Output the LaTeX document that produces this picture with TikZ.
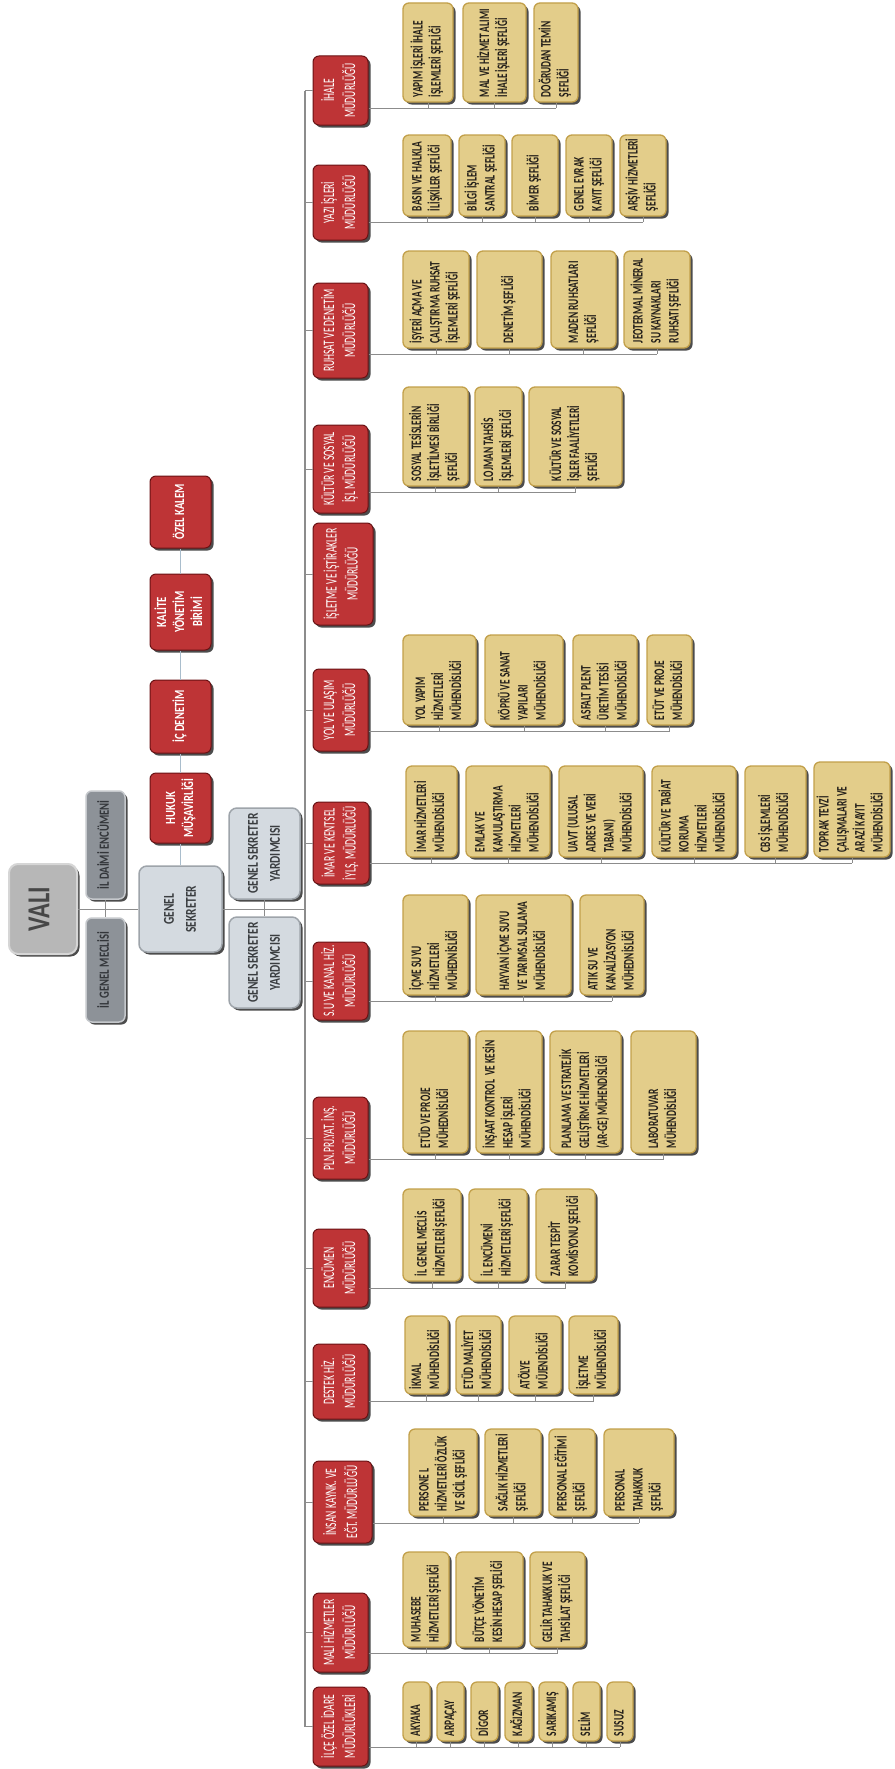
\documentclass[tikz,border=0pt]{standalone}
\usepackage{fontspec}
\usepackage{graphicx}
\setmainfont{Carlito}
\newfontfamily\yfont[FakeStretch=0.65]{Carlito}
\newfontfamily\rfont[FakeStretch=0.6]{Carlito}
\newfontfamily\gfont[FakeStretch=0.76]{Carlito}
\usetikzlibrary{shadows}
\definecolor{yfill}{HTML}{E3CD8A}
\definecolor{ybord}{HTML}{C2A04A}
\definecolor{ytxt}{HTML}{231F1A}
\definecolor{rfill}{HTML}{BE3436}
\definecolor{rbord}{HTML}{6A1214}
\definecolor{vfill}{HTML}{B7B7B7}
\definecolor{vbord}{HTML}{D6D6D6}
\definecolor{vtxt}{HTML}{474747}
\definecolor{dfill}{HTML}{8D9298}
\definecolor{dbord}{HTML}{C5C8CC}
\definecolor{dtxt}{HTML}{33363A}
\definecolor{sfill}{HTML}{D4DAE0}
\definecolor{sbord}{HTML}{9EA4AA}
\definecolor{stxt}{HTML}{3A3D40}
\definecolor{lgray}{HTML}{8C8C8C}
\definecolor{lblue}{HTML}{A9BDCC}

\newcommand\yt[2]{\rotatebox{90}{\makebox[#1][l]{\begin{tabular}{@{}l@{}}#2\end{tabular}}}}
\newcommand\ct[1]{\rotatebox{90}{\begin{tabular}{@{}c@{}}#1\end{tabular}}}
\newcommand\BX[7]{%
 \pgfmathsetmacro\bxcx{(#3+#5)/2}%
 \pgfmathsetmacro\bxcy{(#4+#6)/2}%
 \pgfmathsetmacro\bxw{#5-#3}%
 \pgfmathsetmacro\bxh{#6-#4}%
 \node[#1, minimum width=\bxw pt, minimum height=\bxh pt] (#2) at (\bxcx,\bxcy) {#7};}
\newcommand\YB[6]{%
 \pgfmathsetmacro\bxt{#5-#3-10}%
 \BX{ybox}{#1}{#2}{#3}{#4}{#5}{\yt{\bxt pt}{#6}}}
\newcommand\KIDS[4]{% red, line y, last child, children
 \coordinate (ly#1) at (0,#2);
 \draw[gline] (#1.east |- ly#1) -- (#3.south |- ly#1);
 \foreach \k in {#4} {\draw[gline] (\k.south) -- (\k.south |- ly#1);}}

\tikzset{
 shd/.style={drop shadow={shadow xshift=2.5pt,shadow yshift=-2.5pt,opacity=0.7,fill=black}},
 ybox/.style={shd, rounded corners=6pt, inner sep=0pt, fill=yfill, draw=ybord, line width=1.3pt, text=ytxt, font=\yfont\bfseries\fontsize{14.5}{18}\selectfont},
 rbox/.style={shd, rounded corners=6pt, inner sep=0pt, fill=rfill, draw=rbord, line width=1pt, text=white, font=\rfont\fontsize{16}{21}\selectfont},
 tbox/.style={rbox, font=\gfont\bfseries\fontsize{14}{18}\selectfont},
 vbox/.style={shd, rounded corners=9pt, inner sep=0pt, fill=vfill, draw=vbord, line width=2pt, text=vtxt, font=\gfont\bfseries\fontsize{32}{32}\selectfont},
 dbox/.style={shd, rounded corners=6pt, inner sep=0pt, fill=dfill, draw=dbord, line width=1.5pt, text=dtxt, font=\gfont\bfseries\fontsize{14}{17}\selectfont},
 sbox/.style={shd, rounded corners=8pt, inner sep=0pt, fill=sfill, draw=sbord, line width=1.5pt, text=stxt, font=\gfont\bfseries\fontsize{15}{22}\selectfont},
 gline/.style={draw=lgray, line width=1pt},
 bline/.style={draw=lgray, line width=1.6pt},
 lline/.style={draw=lblue, line width=1pt},
}

\begin{document}
\begin{tikzpicture}[x=1pt,y=-1pt]
\path[fill=white, use as bounding box] (0,0) rectangle (894,1769);

% ---- left part
\BX{vbox}{vali}{9}{864}{77}{954}{\ct{VALI}}
\BX{dbox}{ilde}{86}{791}{125}{899}{\ct{İL DAİMİ ENCÜMENİ}}
\BX{dbox}{ilgm}{86}{918}{125}{1022}{\ct{İL GENEL MECLİSİ}}
\BX{sbox}{gs}{139}{866}{222}{952}{\ct{GENEL\\SEKRETER}}
\BX{sbox}{gsy1}{229}{808}{300}{899}{\ct{GENEL SEKRETER\\YARDIMCISI}}
\BX{sbox}{gsy2}{229}{917}{300}{1008}{\ct{GENEL SEKRETER\\YARDIMCISI}}
\BX{tbox}{ok}{150}{476}{211}{548}{\ct{ÖZEL KALEM}}
\BX{tbox}{kys}{150}{574}{211}{650}{\ct{KALİTE\\YÖNETİM\\BİRİMİ}}
\BX{tbox}{icd}{150}{680}{211}{753}{\ct{İÇ DENETİM}}
\BX{tbox}{huk}{150}{773}{211}{843}{\ct{HUKUK\\MÜŞAVİRLİĞİ}}

% ---- red directorates
\BX{rbox}{r1}{313}{56}{368}{125}{\ct{İHALE\\MÜDÜRLÜĞÜ}}
\BX{rbox}{r2}{313}{165}{368}{240}{\ct{YAZI İŞLERİ\\MÜDÜRLÜĞÜ}}
\BX{rbox}{r3}{313}{283}{368}{378}{\ct{RUHSAT VE DENETİM\\MÜDÜRLÜĞÜ}}
\BX{rbox}{r4}{313}{425}{368}{513}{\ct{KÜLTÜR VE SOSYAL\\İŞL MÜDÜRLÜĞÜ}}
\BX{rbox}{r5}{313}{523}{373}{625}{\ct{İŞLETME VE İŞTİRAKLER\\MÜDÜRLÜĞÜ}}
\BX{rbox}{r6}{313}{669}{368}{751}{\ct{YOL VE ULAŞIM\\MÜDÜRLÜĞÜ}}
\BX{rbox}{r7}{313}{802}{369}{884}{\ct{İMAR VE KENTSEL\\İYLŞ. MÜDÜRLÜĞÜ}}
\BX{rbox}{r8}{313}{942}{368}{1020}{\ct{S.U VE KANAL HİZ.\\MÜDÜRLÜĞÜ}}
\BX{rbox}{r9}{313}{1097}{368}{1179}{\ct{PLN.PRJ.YAT. İNŞ.\\MÜDÜRLÜĞÜ}}
\BX{rbox}{r10}{313}{1229}{368}{1307}{\ct{ENCÜMEN\\MÜDÜRLÜĞÜ}}
\BX{rbox}{r11}{313}{1344}{368}{1419}{\ct{DESTEK HİZ.\\MÜDÜRLÜĞÜ}}
\BX{rbox}{r12}{313}{1461}{372}{1543}{\ct{İNSAN KAYNK. VE\\EĞT. MÜDÜRLÜĞÜ}}
\BX{rbox}{r13}{313}{1593}{368}{1672}{\ct{MALİ HİZMETLER\\MÜDÜRLÜĞÜ}}
\BX{rbox}{r14}{313}{1687}{368}{1766}{\ct{İLÇE ÖZEL İDARE\\MÜDÜRLÜKLERİ}}

% ---- yellow units
\YB{c1a}{403}{3}{453}{102}{YAPIM İŞLERİ İHALE\\İŞLEMLERİ ŞEFLİĞİ}
\YB{c1b}{463}{3}{526}{102}{MAL VE HİZMET ALIMI\\İHALE İŞLERİ ŞEFLİĞİ}
\YB{c1c}{534}{3}{578}{102}{DOĞRUDAN TEMİN\\ŞEFLİĞİ}

\YB{c2a}{403}{135}{451}{216}{BASIN VE HALKLA\\İLİŞKİLER ŞEFLİĞİ}
\YB{c2b}{459}{135}{505}{216}{BİLGİ İŞLEM\\SANTRAL ŞEFLİĞİ}
\YB{c2c}{512}{135}{558}{216}{BİMER ŞEFLİĞİ}
\YB{c2d}{566}{135}{612}{216}{GENEL EVRAK\\KAYIT ŞEFLİĞİ}
\YB{c2e}{620}{135}{666}{216}{ARŞİV HİZMETLERİ\\ŞEFLİĞİ}

\YB{c3a}{403}{251}{469}{348}{İŞYERİ AÇMA VE\\ÇALIŞTIRMA RUHSAT\\İŞLEMLERİ ŞEFLİĞİ}
\YB{c3b}{477}{251}{542}{348}{DENETİM ŞEFLİĞİ}
\YB{c3c}{551}{251}{616}{348}{MADEN RUHSATLARI\\ŞEFLİĞİ}
\YB{c3d}{624}{251}{690}{348}{JEOTERMAL MİNERAL\\SU KAYNAKLARI\\RUHSATI ŞEFLİĞİ}

\YB{c4a}{403}{387}{468}{486}{SOSYAL TESİSLERİN\\İŞLETİLMESİ BİRLİĞİ\\ŞEFLİĞİ}
\YB{c4b}{475}{387}{522}{486}{LOJMAN TAHSİS\\İŞLEMLERİ ŞEFLİĞİ}
\YB{c4c}{529}{387}{622}{486}{KÜLTÜR VE SOSYAL\\İŞLER FAALİYETLERİ\\ŞEFLİĞİ}

\YB{c6a}{403}{635}{476}{725}{YOL YAPIM\\HİZMETLERİ\\MÜHENDİSLİĞİ}
\YB{c6b}{485}{635}{563}{725}{KÖPRÜ VE SANAT\\YAPILARI\\MÜHENDİSLİĞİ}
\YB{c6c}{573}{635}{637}{725}{ASFALT PLENT\\ÜRETİM TESİSİ\\MÜHENDİSLİĞİ}
\YB{c6d}{647}{635}{692}{725}{ETÜT VE PROJE\\MÜHENDİSLİĞİ}

\YB{c7a}{406}{766}{457}{857}{İMAR HİZMETLERİ\\MÜHENDİSLİĞİ}
\YB{c7b}{466}{766}{550}{857}{EMLAK VE\\KAMULAŞTIRMA\\HİZMETLERİ\\MÜHENDİSLİĞİ}
\YB{c7c}{559}{766}{643}{857}{UAVT (ULUSAL\\ADRES VE VERİ\\TABANI)\\MÜHENDİSLİĞİ}
\YB{c7d}{652}{766}{736}{857}{KÜLTÜR VE TABİAT\\KORUMA\\HİZMETLERİ\\MÜHENDİSLİĞİ}
\YB{c7e}{745}{766}{806}{857}{CBS İŞLEMLERİ\\MÜHENDİSLİĞİ}
\YB{c7f}{814}{762}{890}{857}{TOPRAK TEVZİ\\ÇALIŞMALARI VE\\ARAZİ KAYIT\\MÜHENDİSLİĞİ}

\YB{c8a}{403}{895}{468}{995}{İÇME SUYU\\HİZMETLERİ\\MÜHEDNİSLİĞİ}
\YB{c8b}{476}{895}{571}{995}{HAYVAN İÇME SUYU\\VE TARIMSAL SULAMA\\MÜHENDİSLİĞİ}
\YB{c8c}{580}{895}{644}{995}{ATIK SU VE\\KANALİZASYON\\MÜHEDNİSLİĞİ}

\YB{c9a}{403}{1031}{468}{1153}{ETÜD VE PROJE\\MÜHEDNİSLİĞİ}
\YB{c9b}{476}{1031}{542}{1153}{İNŞAAT KONTROL\ \ VE KESİN\\HESAP İŞLERİ\\MÜHENDİSLİĞİ}
\YB{c9c}{550}{1031}{621}{1153}{PLANLAMA VE STRATEJİK\\GELİŞTİRME HİZMETLERİ\\(AR-GE) MÜHENDİSLİĞİ}
\YB{c9d}{631}{1031}{696}{1153}{LABORATUVAR\\MÜHENDİSLİĞİ}

\YB{c10a}{403}{1189}{461}{1281}{İL GENEL MECLİS\\HİZMETLERİ ŞEFLİĞİ}
\YB{c10b}{469}{1189}{527}{1281}{İL ENCÜMENİ\\HİZMETLERİ ŞEFLİĞİ}
\YB{c10c}{536}{1189}{595}{1281}{ZARAR TESPİT\\KOMİSYONU ŞEFLİĞİ}

\YB{c11a}{405}{1316}{448}{1394}{İKMAL\\MÜHENDİSLİĞİ}
\YB{c11b}{456}{1316}{501}{1394}{ETÜD MALİYET\\MÜHENDİSLİĞİ}
\YB{c11c}{509}{1316}{561}{1394}{ATÖLYE\\MÜJENDİSLİĞİ}
\YB{c11d}{569}{1316}{618}{1394}{İŞLETME\\MÜHENDİSLİĞİ}

\YB{c12a}{409}{1429}{477}{1516}{PERSONE L\\HİZMETLERİ ÖZLÜK\\VE SİCİL ŞEFLİĞİ}
\YB{c12b}{485}{1429}{541}{1516}{SAĞLIK HİZMETLERİ\\ŞEFLİĞİ}
\YB{c12c}{549}{1429}{595}{1516}{PERSONAL EĞİTİMİ\\ŞEFLİĞİ}
\YB{c12d}{604}{1429}{674}{1516}{PERSONAL\\TAHAKKUK\\ŞEFLİĞİ}

\YB{c13a}{403}{1552}{449}{1647}{MUHASEBE\\HİZMETLERİ ŞEFLİĞİ}
\YB{c13b}{456}{1552}{523}{1647}{BÜTÇE YÖNETİM\\KESİN HESAP ŞEFLİĞİ}
\YB{c13c}{530}{1552}{585}{1647}{GELİR TAHAKKUK VE\\TAHSİLAT ŞEFLİĞİ}

\YB{c14a}{403}{1682}{430}{1741}{AKYAKA}
\YB{c14b}{437}{1682}{464}{1741}{ARPAÇAY}
\YB{c14c}{471}{1682}{498}{1741}{DİGOR}
\YB{c14d}{505}{1682}{532}{1741}{KAĞIZMAN}
\YB{c14e}{539}{1682}{566}{1741}{SARIKAMIŞ}
\YB{c14f}{573}{1682}{600}{1741}{SELİM}
\YB{c14g}{607}{1682}{633}{1741}{SUSUZ}

% ---- connectors
\draw[gline] (vali.east) -- (gs.west);
\draw[gline] (ilde.south) -- (ilgm.north);
\draw[gline] (gsy1.south) -- (gsy2.north);
\draw[lline] (gs.north) -- (huk.south);
\draw[lline] (huk.north) -- (icd.south);
\draw[lline] (icd.north) -- (kys.south);
\draw[lline] (kys.north) -- (ok.south);
\coordinate (busx) at (305,0);
\draw[gline] (gs.east) -- (gs.east -| busx);
\draw[bline] (busx |- r1.west) -- (busx |- r14.west);
\foreach \i in {1,...,14} {\draw[gline] (busx |- r\i.west) -- (r\i.west);}

\KIDS{r1}{108}{c1c}{c1a,c1b,c1c}
\KIDS{r2}{222}{c2e}{c2a,c2b,c2c,c2d,c2e}
\KIDS{r3}{354}{c3d}{c3a,c3b,c3c,c3d}
\KIDS{r4}{492}{c4c}{c4a,c4b,c4c}
\KIDS{r6}{731}{c6d}{c6a,c6b,c6c,c6d}
\KIDS{r7}{863}{c7f}{c7a,c7b,c7c,c7d,c7e,c7f}
\KIDS{r8}{1001}{c8c}{c8a,c8b,c8c}
\KIDS{r9}{1159}{c9d}{c9a,c9b,c9c,c9d}
\KIDS{r10}{1288}{c10c}{c10a,c10b,c10c}
\KIDS{r11}{1401}{c11d}{c11a,c11b,c11c,c11d}
\KIDS{r12}{1523}{c12d}{c12a,c12b,c12c,c12d}
\KIDS{r13}{1653}{c13c}{c13a,c13b,c13c}
\KIDS{r14}{1747}{c14g}{c14a,c14b,c14c,c14d,c14e,c14f,c14g}
\end{tikzpicture}
\end{document}
